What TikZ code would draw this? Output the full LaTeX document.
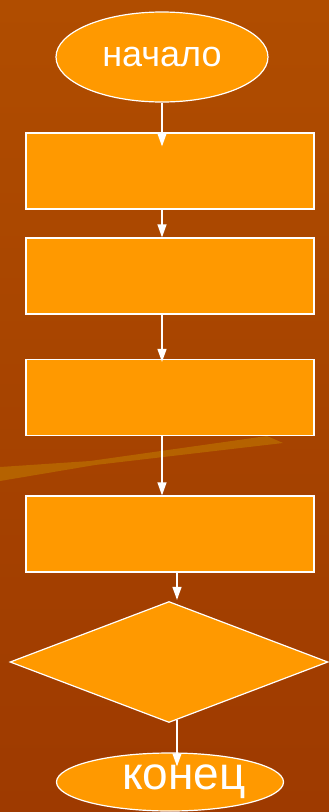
\documentclass[tikz,border=0pt]{standalone}
\usepackage{fontspec}
\setmainfont{Liberation Sans}
\usepackage{tikz}
\usetikzlibrary{shapes.geometric,arrows.meta,calc}
\definecolor{bgtop}{HTML}{B04D00}
\definecolor{bgbot}{HTML}{9E3A00}
\definecolor{bstripe}{HTML}{B56200}
\definecolor{blockfill}{HTML}{FF9900}
\begin{document}
\begin{tikzpicture}[x=1pt,y=-1pt,
  every node/.style={draw=white,line width=1.2pt,fill=blockfill,text=white,inner sep=0pt},
  blk/.style={rectangle,minimum width=288pt,minimum height=76pt},
  term/.style={ellipse},
  arr/.style={draw=white,line width=1.2pt,-{Triangle[width=9pt,length=13pt]}}]
\useasboundingbox (0,0) rectangle (329,812);
\shade[top color=bgtop,bottom color=bgbot] (0,0) rectangle (329,812);
\fill[bstripe] (0,467) -- (90,461) -- (267,436) -- (283,443) -- (95,465) -- (0,481) -- cycle;

\node (start) at (162,57) [term,minimum width=212pt,minimum height=90pt] {\fontsize{36}{36}\selectfont начало};

\node (b1) at (170,171) [blk] {};
\node (b2) at (170,276) [blk] {};
\node (b3) at (170,397.5) [blk] {};
\node (b4) at (170,534) [blk] {};

\node (cond) at (169,662) [diamond,minimum width=318pt,minimum height=121pt] {};

\node (stop) at (170,782) [term,minimum width=227pt,minimum height=58pt] {\fontsize{46}{46}\selectfont\hspace*{28pt}конец};

\draw[arr] (start.south) -- ([yshift=-14pt]b1.north -| start.south);
\draw[arr] (b1.south -| start.south) -- (b2.north -| start.south);
\draw[arr] (b2.south -| start.south) -- ([yshift=-3pt]b3.north -| start.south);
\draw[arr] (b3.south -| start.south) -- (b4.north -| start.south);
\draw[arr] ([xshift=8pt]b4.south -| cond.north) -- ([xshift=8pt,yshift=1pt]cond.north);
\draw[arr] ([xshift=8pt,yshift=3pt]cond.south) -- ([xshift=7pt,yshift=-14pt]stop.north);
\end{tikzpicture}
\end{document}
